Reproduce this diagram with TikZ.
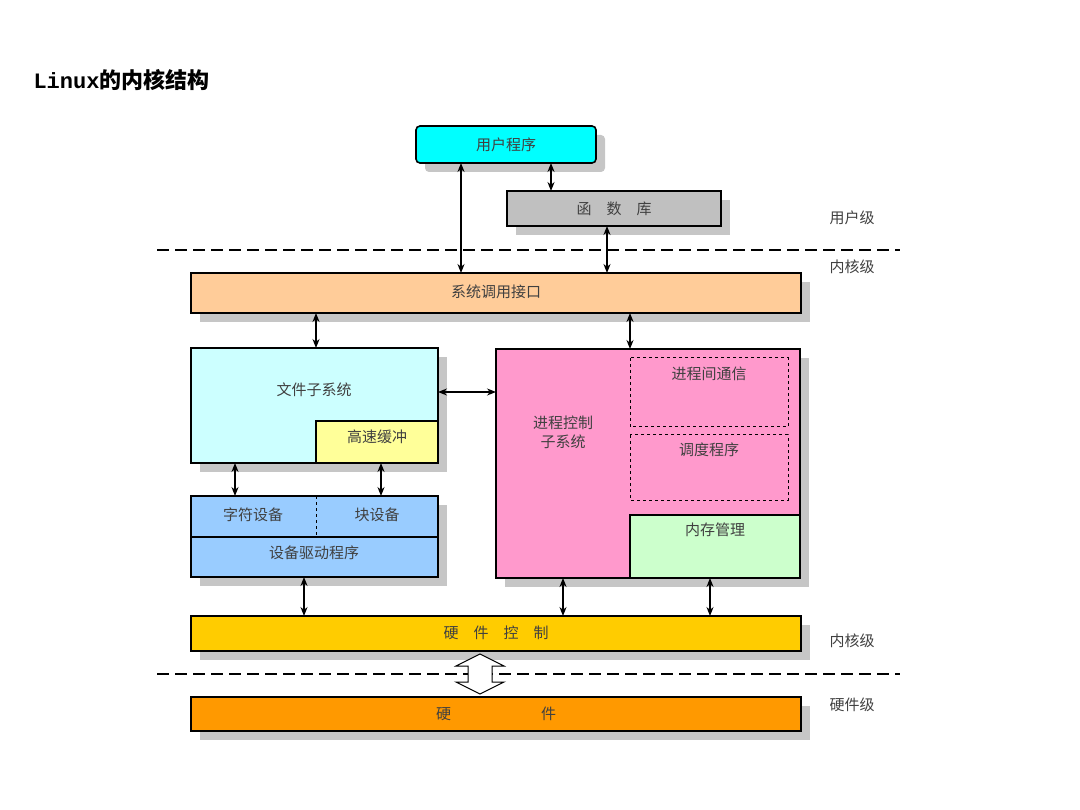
\documentclass[tikz,border=0pt]{standalone}
\usepackage{fontspec}
\setmainfont{Liberation Mono}
\newfontfamily\cjk{Noto Sans CJK SC}
\usetikzlibrary{shadows,arrows.meta}
\definecolor{userc}{RGB}{0,255,255}
\definecolor{libc}{RGB}{192,192,192}
\definecolor{sysc}{RGB}{255,204,153}
\definecolor{fsc}{RGB}{204,255,255}
\definecolor{cachec}{RGB}{255,255,153}
\definecolor{devc}{RGB}{153,204,255}
\definecolor{procc}{RGB}{255,153,204}
\definecolor{memc}{RGB}{204,255,204}
\definecolor{hwcc}{RGB}{255,204,0}
\definecolor{hwc}{RGB}{255,153,0}
\tikzset{
  blk/.style={draw=black,line width=1.6pt,drop shadow={shadow xshift=9pt,shadow yshift=-9pt,fill=gray!45,opacity=1}},
  inner/.style={draw=black,line width=1.4pt},
  dbox/.style={draw=black,dashed,line width=1pt},
  txt/.style={font=\cjk\fontsize{15}{15}\selectfont,text=black!75},
  lvl/.style={txt,anchor=west},
  arr/.style={{Stealth[length=9pt,width=7pt]}-{Stealth[length=9pt,width=7pt]},line width=1.4pt},
  lvline/.style={line width=2pt,dash pattern=on 12pt off 6pt}
}
\begin{document}
\begin{tikzpicture}[x=1pt,y=-1pt]
\useasboundingbox (0,0) rectangle (1080,810);
\node[anchor=west,font=\bfseries\fontsize{22}{22}\selectfont] (title) at (30,80) {Linux{\cjk 的内核结构}};
% user level
\draw[blk,fill=userc,rounded corners=4pt] (416,126) rectangle (596,163);
\node[txt] (user) at (506,144.5) {用户程序};
\draw[blk,fill=libc] (507,191) rectangle (721,226);
\node[txt] (lib) at (614,208.5) {函\quad 数\quad 库};
\draw[lvline] (157,250) -- (900,250);
\node[lvl] (ulvl) at (826,218) {用户级};
\node[lvl] (klvl) at (826,267) {内核级};
% system call
\draw[blk,fill=sysc] (191,273) rectangle (801,313);
\node[txt] (sys) at (496,292) {系统调用接口};
% file subsystem
\draw[blk,fill=fsc] (191,348) rectangle (438,463);
\node[txt] (fs) at (314,390) {文件子系统};
\draw[inner,fill=cachec] (316,421) rectangle (438,463);
\node[txt] (cache) at (377,437) {高速缓冲};
% devices
\draw[blk,fill=devc] (191,496) rectangle (438,577);
\draw[inner] (191,537) -- (438,537);
\draw[dashed,line width=1pt] (316,496) -- (316,537);
\node[txt] (chr) at (253,515) {字符设备};
\node[txt] (blkdev) at (377,515) {块设备};
\node[txt] (drv) at (314,553) {设备驱动程序};
% process control
\draw[blk,fill=procc] (496,349) rectangle (800,578);
\node[txt,align=center] (pc) at (563,432) {进程控制\\[4pt]子系统};
\draw[dbox] (630,358) rectangle (788,427);
\node[txt] (ipc) at (709,374) {进程间通信};
\draw[dbox] (630,435) rectangle (788,500);
\node[txt] (sched) at (709,450) {调度程序};
\draw[inner,fill=memc] (630,515) rectangle (800,578);
\node[txt] (mem) at (715,530) {内存管理};
% hardware control
\draw[blk,fill=hwcc] (191,616) rectangle (801,651);
\node[txt] (hwctl) at (496,633) {硬\quad 件\quad 控\quad 制};
\draw[lvline] (157,674) -- (900,674);
\node[lvl] (klvl2) at (826,641) {内核级};
\node[lvl] (hlvl) at (826,705) {硬件级};
\draw[blk,fill=hwc] (191,697) rectangle (801,731);
\node[txt] (hw) at (496,714) {硬\qquad\qquad\qquad 件};
% arrows
\draw[arr] (461,163) -- (461,273);
\draw[arr] (551,163) -- (551,191);
\draw[arr] (607,226) -- (607,273);
\draw[arr] (316,313) -- (316,348);
\draw[arr] (630,313) -- (630,349);
\draw[arr] (438,392) -- (496,392);
\draw[arr] (235,463) -- (235,496);
\draw[arr] (381,463) -- (381,496);
\draw[arr] (304,577) -- (304,616);
\draw[arr] (563,578) -- (563,616);
\draw[arr] (710,578) -- (710,616);
\draw[line width=1pt,fill=white] (480,654) -- (504,666) -- (492,666) -- (492,682) -- (504,682)
  -- (480,694) -- (456,682) -- (468,682) -- (468,666) -- (456,666) -- cycle;
\end{tikzpicture}
\end{document}
